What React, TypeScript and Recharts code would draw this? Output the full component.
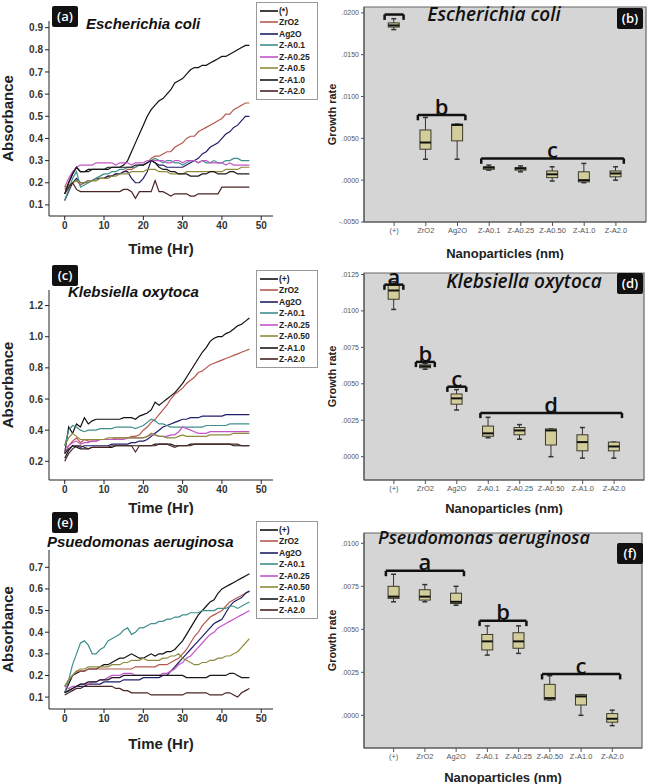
import React from "react";
import {
  LineChart, Line, XAxis, YAxis, Legend, ComposedChart, Bar,
  CartesianGrid, ReferenceLine, ReferenceDot, ReferenceArea,
} from "recharts";

// sampling hours of the growth curves
const HOURS = [0,1,2,3,4,5,6,7,8,9,10,11,12,13,14,15,16,17,18,19,20,21,22,23,24,25,26,27,28,29,30,31,32,33,34,35,36,37,38,39,40,41,42,43,44,45,46,47];

const NAMES_A = ["(*)", "ZrO2", "Ag2O", "Z-A0.1", "Z-A0.25", "Z-A0.5", "Z-A1.0", "Z-A2.0"];
const NAMES_CE = ["(+)", "ZrO2", "Ag2O", "Z-A0.1", "Z-A0.25", "Z-A0.50", "Z-A1.0", "Z-A2.0"];
const COLORS = ["#111111", "#b4584c", "#1f1f66", "#3f8f8c", "#c455c8", "#8e8c3c", "#1a1a1a", "#4a2424"];

// (a) Escherichia coli absorbance
const A_POS = [0.15,0.2,0.24,0.27,0.25,0.25,0.26,0.26,0.26,0.26,0.26,0.26,0.27,0.27,0.27,0.28,0.3,0.34,0.38,0.42,0.46,0.5,0.53,0.55,0.57,0.58,0.6,0.62,0.65,0.66,0.67,0.69,0.71,0.72,0.72,0.73,0.73,0.74,0.75,0.76,0.77,0.77,0.78,0.79,0.8,0.81,0.82,0.82];
const A_ZRO2 = [0.17,0.19,0.2,0.21,0.19,0.2,0.2,0.21,0.21,0.22,0.22,0.23,0.23,0.24,0.24,0.25,0.26,0.26,0.27,0.28,0.28,0.29,0.31,0.32,0.32,0.33,0.34,0.34,0.36,0.37,0.38,0.4,0.41,0.41,0.43,0.44,0.45,0.46,0.47,0.48,0.49,0.51,0.51,0.53,0.54,0.55,0.56,0.56];
const A_AG2O = [0.12,0.16,0.2,0.22,0.2,0.2,0.21,0.21,0.22,0.22,0.22,0.23,0.23,0.24,0.24,0.25,0.25,0.22,0.2,0.2,0.22,0.25,0.3,0.29,0.28,0.28,0.27,0.27,0.27,0.27,0.27,0.28,0.29,0.3,0.31,0.33,0.34,0.36,0.37,0.38,0.4,0.42,0.43,0.45,0.46,0.48,0.5,0.5];
const A_ZA01 = [0.12,0.17,0.22,0.25,0.18,0.19,0.2,0.21,0.22,0.23,0.24,0.24,0.25,0.25,0.26,0.26,0.27,0.27,0.27,0.28,0.28,0.29,0.3,0.31,0.3,0.29,0.3,0.3,0.29,0.29,0.28,0.29,0.3,0.3,0.29,0.3,0.29,0.29,0.3,0.29,0.29,0.3,0.3,0.31,0.31,0.3,0.3,0.3];
const A_ZA025 = [0.18,0.22,0.25,0.27,0.28,0.28,0.28,0.28,0.29,0.29,0.29,0.29,0.29,0.28,0.29,0.29,0.29,0.28,0.29,0.29,0.29,0.3,0.3,0.3,0.3,0.3,0.29,0.29,0.3,0.3,0.29,0.3,0.3,0.3,0.29,0.3,0.3,0.29,0.29,0.29,0.29,0.28,0.29,0.28,0.28,0.28,0.28,0.28];
const A_ZA05 = [0.18,0.19,0.2,0.21,0.2,0.2,0.21,0.21,0.21,0.22,0.22,0.22,0.23,0.23,0.24,0.24,0.24,0.25,0.25,0.25,0.25,0.26,0.26,0.26,0.25,0.25,0.25,0.24,0.24,0.24,0.24,0.25,0.25,0.25,0.25,0.25,0.25,0.25,0.25,0.25,0.25,0.26,0.26,0.26,0.26,0.27,0.27,0.27];
const A_ZA1 = [0.15,0.2,0.24,0.27,0.25,0.25,0.25,0.26,0.26,0.26,0.26,0.27,0.27,0.27,0.27,0.27,0.27,0.27,0.28,0.28,0.28,0.29,0.3,0.29,0.27,0.26,0.26,0.25,0.25,0.24,0.24,0.24,0.23,0.23,0.23,0.24,0.24,0.25,0.25,0.24,0.24,0.24,0.25,0.25,0.24,0.24,0.24,0.24];
const A_ZA2 = [0.15,0.18,0.2,0.17,0.16,0.16,0.16,0.16,0.16,0.16,0.16,0.16,0.16,0.16,0.16,0.17,0.17,0.16,0.13,0.16,0.16,0.16,0.16,0.21,0.16,0.16,0.15,0.14,0.15,0.15,0.15,0.15,0.14,0.14,0.15,0.15,0.15,0.15,0.15,0.15,0.18,0.18,0.18,0.18,0.18,0.18,0.18,0.18];

// (c) Klebsiella oxytoca absorbance
const C_POS = [0.25,0.42,0.38,0.44,0.42,0.48,0.44,0.46,0.47,0.47,0.47,0.47,0.47,0.47,0.47,0.48,0.48,0.48,0.47,0.49,0.5,0.51,0.53,0.58,0.56,0.58,0.6,0.62,0.64,0.67,0.7,0.74,0.78,0.82,0.86,0.9,0.93,0.97,0.99,1.0,1.0,1.02,1.03,1.05,1.07,1.08,1.1,1.12];
const C_ZRO2 = [0.25,0.3,0.33,0.35,0.32,0.34,0.33,0.33,0.33,0.34,0.34,0.34,0.34,0.35,0.35,0.35,0.35,0.36,0.36,0.37,0.4,0.42,0.45,0.47,0.5,0.53,0.56,0.6,0.63,0.65,0.67,0.7,0.72,0.74,0.77,0.78,0.8,0.82,0.83,0.84,0.85,0.86,0.87,0.88,0.89,0.9,0.91,0.92];
const C_AG2O = [0.25,0.28,0.3,0.3,0.29,0.3,0.3,0.3,0.3,0.3,0.3,0.3,0.31,0.31,0.31,0.31,0.31,0.32,0.32,0.33,0.33,0.34,0.36,0.38,0.4,0.42,0.43,0.44,0.45,0.46,0.47,0.47,0.48,0.48,0.48,0.49,0.49,0.49,0.49,0.49,0.49,0.5,0.5,0.5,0.5,0.5,0.5,0.5];
const C_ZA01 = [0.3,0.4,0.43,0.42,0.4,0.39,0.4,0.4,0.4,0.41,0.41,0.41,0.41,0.42,0.42,0.42,0.42,0.42,0.41,0.42,0.43,0.45,0.47,0.46,0.44,0.44,0.43,0.42,0.42,0.42,0.42,0.42,0.42,0.42,0.42,0.42,0.43,0.43,0.43,0.43,0.43,0.43,0.44,0.44,0.44,0.44,0.44,0.44];
const C_ZA025 = [0.28,0.3,0.32,0.33,0.31,0.32,0.32,0.33,0.33,0.34,0.34,0.34,0.34,0.34,0.34,0.34,0.35,0.35,0.35,0.35,0.35,0.36,0.37,0.37,0.36,0.36,0.36,0.37,0.37,0.39,0.42,0.41,0.4,0.39,0.38,0.38,0.38,0.39,0.39,0.39,0.39,0.39,0.39,0.39,0.39,0.39,0.39,0.39];
const C_ZA05 = [0.3,0.35,0.38,0.36,0.34,0.34,0.34,0.34,0.34,0.34,0.34,0.35,0.35,0.35,0.35,0.35,0.35,0.35,0.35,0.35,0.35,0.36,0.38,0.37,0.36,0.36,0.35,0.35,0.35,0.36,0.37,0.36,0.36,0.36,0.36,0.36,0.36,0.37,0.37,0.37,0.37,0.37,0.37,0.38,0.38,0.38,0.38,0.38];
const C_ZA1 = [0.22,0.27,0.3,0.29,0.28,0.28,0.28,0.29,0.29,0.29,0.29,0.29,0.29,0.3,0.3,0.3,0.3,0.3,0.3,0.3,0.3,0.3,0.3,0.31,0.31,0.31,0.31,0.31,0.3,0.3,0.3,0.3,0.31,0.31,0.31,0.31,0.31,0.31,0.31,0.31,0.31,0.31,0.31,0.3,0.3,0.3,0.3,0.3];
const C_ZA2 = [0.2,0.25,0.28,0.3,0.3,0.29,0.28,0.29,0.29,0.29,0.29,0.29,0.3,0.3,0.3,0.3,0.3,0.3,0.26,0.3,0.3,0.3,0.3,0.3,0.31,0.31,0.31,0.3,0.29,0.3,0.3,0.3,0.3,0.31,0.31,0.31,0.31,0.31,0.31,0.31,0.31,0.31,0.31,0.31,0.31,0.3,0.3,0.3];

// (e) Pseudomonas aeruginosa absorbance
const E_POS = [0.12,0.16,0.2,0.21,0.22,0.22,0.23,0.23,0.23,0.24,0.25,0.25,0.26,0.27,0.28,0.28,0.29,0.3,0.29,0.28,0.28,0.29,0.3,0.29,0.3,0.3,0.31,0.31,0.32,0.34,0.36,0.39,0.42,0.45,0.48,0.5,0.52,0.54,0.55,0.58,0.6,0.61,0.62,0.63,0.64,0.65,0.66,0.67];
const E_ZRO2 = [0.15,0.18,0.2,0.22,0.22,0.22,0.23,0.23,0.23,0.23,0.23,0.23,0.23,0.23,0.23,0.23,0.23,0.23,0.24,0.24,0.24,0.24,0.24,0.24,0.25,0.25,0.25,0.26,0.27,0.28,0.3,0.32,0.35,0.38,0.4,0.43,0.45,0.47,0.48,0.49,0.5,0.52,0.54,0.55,0.56,0.57,0.58,0.59];
const E_AG2O = [0.12,0.13,0.14,0.15,0.15,0.15,0.16,0.16,0.16,0.16,0.17,0.17,0.17,0.17,0.17,0.18,0.18,0.18,0.18,0.18,0.19,0.19,0.19,0.19,0.19,0.2,0.2,0.22,0.24,0.26,0.28,0.3,0.32,0.34,0.36,0.38,0.4,0.42,0.44,0.45,0.46,0.49,0.52,0.54,0.55,0.56,0.58,0.59];
const E_ZA01 = [0.12,0.18,0.25,0.3,0.35,0.36,0.34,0.3,0.3,0.32,0.33,0.36,0.37,0.38,0.39,0.41,0.42,0.39,0.4,0.42,0.42,0.43,0.44,0.44,0.45,0.45,0.46,0.46,0.47,0.47,0.48,0.48,0.49,0.49,0.49,0.5,0.5,0.5,0.5,0.51,0.51,0.51,0.52,0.52,0.51,0.52,0.53,0.54];
const E_ZA025 = [0.15,0.14,0.15,0.15,0.16,0.16,0.16,0.17,0.17,0.18,0.18,0.19,0.2,0.2,0.2,0.21,0.21,0.21,0.2,0.2,0.2,0.2,0.2,0.2,0.2,0.21,0.21,0.22,0.23,0.25,0.26,0.28,0.29,0.31,0.33,0.35,0.37,0.39,0.4,0.42,0.43,0.44,0.45,0.46,0.47,0.48,0.49,0.5];
const E_ZA05 = [0.15,0.18,0.2,0.22,0.23,0.23,0.24,0.24,0.24,0.24,0.24,0.24,0.25,0.25,0.25,0.26,0.26,0.27,0.27,0.27,0.28,0.27,0.27,0.27,0.27,0.28,0.28,0.29,0.29,0.3,0.28,0.27,0.26,0.25,0.25,0.26,0.26,0.27,0.27,0.28,0.28,0.29,0.29,0.3,0.31,0.33,0.35,0.37];
const E_ZA1 = [0.12,0.13,0.14,0.15,0.16,0.16,0.17,0.17,0.17,0.18,0.18,0.18,0.19,0.19,0.19,0.2,0.2,0.2,0.2,0.2,0.2,0.2,0.2,0.2,0.2,0.2,0.2,0.2,0.2,0.2,0.2,0.19,0.19,0.19,0.19,0.19,0.19,0.2,0.2,0.2,0.2,0.2,0.21,0.21,0.2,0.19,0.19,0.19];
const E_ZA2 = [0.11,0.12,0.13,0.14,0.14,0.15,0.15,0.15,0.15,0.15,0.15,0.15,0.15,0.14,0.14,0.13,0.13,0.12,0.12,0.12,0.12,0.12,0.11,0.11,0.11,0.11,0.11,0.11,0.11,0.11,0.11,0.12,0.12,0.12,0.12,0.12,0.12,0.11,0.11,0.11,0.11,0.12,0.12,0.11,0.1,0.12,0.13,0.14];

// growth-rate box plots: categories and five-number summaries
const GROUPS = ["(+)", "ZrO2", "Ag2O", "Z-A0.1", "Z-A0.25", "Z-A0.50", "Z-A1.0", "Z-A2.0"];
const B_MIN = [0.0180, 0.0025, 0.0025, 0.0012, 0.0010, -0.0001, -0.0003, 0.0000];
const B_Q1 = [0.0183, 0.0037, 0.0047, 0.0013, 0.0012, 0.0003, -0.0002, 0.0004];
const B_MED = [0.0185, 0.0045, 0.0066, 0.0015, 0.0014, 0.0007, 0.0000, 0.0008];
const B_Q3 = [0.0188, 0.0060, 0.0067, 0.0016, 0.0015, 0.0011, 0.0010, 0.0011];
const B_MAX = [0.0193, 0.0075, 0.0067, 0.0018, 0.0017, 0.0016, 0.0020, 0.0016];

const D_MIN = [0.0101, 0.0060, 0.0032, 0.0013, 0.0012, 0.0000, -0.0001, -0.0001];
const D_Q1 = [0.0108, 0.0061, 0.0036, 0.0014, 0.0015, 0.0008, 0.0004, 0.0004];
const D_MED = [0.0114, 0.0062, 0.0040, 0.0016, 0.0018, 0.0018, 0.0010, 0.0007];
const D_Q3 = [0.0118, 0.0063, 0.0043, 0.0021, 0.0020, 0.0019, 0.0015, 0.0010];
const D_MAX = [0.0120, 0.0064, 0.0046, 0.0027, 0.0022, 0.0019, 0.0020, 0.0010];

const F_MIN = [0.0066, 0.0066, 0.0064, 0.0035, 0.0036, 0.0009, 0.0000, -0.0006];
const F_Q1 = [0.0068, 0.0067, 0.0065, 0.0038, 0.0039, 0.0009, 0.0006, -0.0004];
const F_MED = [0.0069, 0.0069, 0.0066, 0.0043, 0.0043, 0.0010, 0.0011, -0.0002];
const F_Q3 = [0.0075, 0.0073, 0.0071, 0.0047, 0.0048, 0.0018, 0.0012, 0.0001];
const F_MAX = [0.0082, 0.0076, 0.0075, 0.0052, 0.0052, 0.0023, 0.0012, 0.0003];

// significance brackets: [fromIndex, toIndex, lineY, letter]
const B_BRACKETS: [number, number, number, string][] = [[-0.3, 0.3, 0.0198, ""], [0.75, 2.25, 0.0078, "b"], [2.75, 7.25, 0.0026, "c"]];
const D_BRACKETS: [number, number, number, string][] = [[-0.3, 0.3, 0.0118, "a"], [0.7, 1.3, 0.0065, "b"], [1.7, 2.3, 0.0048, "c"], [2.75, 7.25, 0.0030, "d"]];
const F_BRACKETS: [number, number, number, string][] = [[-0.25, 2.25, 0.0084, "a"], [2.75, 4.25, 0.0055, "b"], [4.75, 7.25, 0.0024, "c"]];

const ARIAL = "'Liberation Sans', Arial, sans-serif";
const OPEN = "'Open Sans', 'Liberation Sans', sans-serif";

function LegendBox(props: any) {
  const items = [...(props.payload || [])];
  const order: string[] = props.order || [];
  items.sort((a: any, b: any) => order.indexOf(a.value) - order.indexOf(b.value));
  return (
    <div style={{ border: "1px solid #999", background: "#fff", padding: "2px 3px", width: 54, fontFamily: ARIAL }}>
      {items.map((it: any) => (
        <div key={it.value} style={{ display: "flex", alignItems: "center", height: 11.5 }}>
          <svg width={18} height={4}><line x1={0} y1={2} x2={18} y2={2} stroke={it.color} strokeWidth={1.6} /></svg>
          <span style={{ fontSize: 8.5, fontWeight: "bold", color: "#222", marginLeft: 1 }}>{it.value}</span>
        </div>
      ))}
    </div>
  );
}

function LinePanel(p: any) {
  const rows = HOURS.map((t, i) => {
    const r: any = { t };
    p.series.forEach((s: number[], k: number) => { r["s" + k] = s[i]; });
    return r;
  });
  return (
    <div style={{ position: "absolute", left: 0, top: p.top, width: 324, height: p.height }}>
      <LineChart width={324} height={p.height} data={rows}
        margin={{ top: p.mTop, right: 51, bottom: p.mBottom, left: 8 }}>
        <XAxis dataKey="t" type="number" domain={[-4, 53]} ticks={[0, 10, 20, 30, 40, 50]} allowDataOverflow
          stroke="#222" height={p.xh} tickSize={4}
          tick={{ fontSize: 10, fontWeight: "bold", fill: "#333", fontFamily: ARIAL }}
          label={{ value: "Time (Hr)", position: "insideBottom", offset: 0, style: { fontSize: 15, fontWeight: "bold", fill: "#222", fontFamily: ARIAL } }} />
        <YAxis type="number" domain={p.yDomain} ticks={p.yTicks} allowDataOverflow width={41} stroke="#222" tickSize={4}
          tickFormatter={(v: number) => v.toFixed(1)}
          tick={{ fontSize: 10, fontWeight: "bold", fill: "#333", fontFamily: ARIAL }}
          label={{ value: "Absorbance", angle: -90, position: "insideLeft", offset: 0, style: { textAnchor: "middle", fontSize: 15, fontWeight: "bold", fill: "#222", fontFamily: ARIAL } }} />
        <Legend layout="vertical" align="center" verticalAlign="middle" content={<LegendBox order={p.names} />}
          wrapperStyle={{ left: 256, top: p.legendTop, width: 62, height: "auto" }} />
        {p.names.map((n: string, k: number) => (
          <Line key={n} type="linear" dataKey={"s" + k} name={n} stroke={COLORS[k]} strokeWidth={1.2} dot={false} isAnimationActive={false} />
        ))}
      </LineChart>
    </div>
  );
}

function BoxShape(props: any) {
  const { x, y, width, height, payload } = props;
  if (x == null || payload == null) return null;
  const top = Math.min(y, y + height);
  const bot = Math.max(y, y + height);
  const span = payload.max - payload.min;
  const py = (v: number) => (span === 0 ? top : bot - ((v - payload.min) / span) * (bot - top));
  const cx = x + width / 2;
  const q3 = py(payload.q3), q1 = py(payload.q1);
  return (
    <g>
      <line x1={cx} x2={cx} y1={top} y2={bot} stroke="#333" strokeWidth={1} />
      <line x1={cx - 2.5} x2={cx + 2.5} y1={top} y2={top} stroke="#333" strokeWidth={1.5} />
      <line x1={cx - 2.5} x2={cx + 2.5} y1={bot} y2={bot} stroke="#333" strokeWidth={1.5} />
      <rect x={x} y={q3} width={width} height={Math.max(1.5, q1 - q3)} fill="#d3cd9c" stroke="#3a3a2a" strokeWidth={1} />
      <line x1={x} x2={x + width} y1={py(payload.med)} y2={py(payload.med)} stroke="#111" strokeWidth={2} />
    </g>
  );
}

const fmtRate = (v: number) => (v < 0 ? "-" : "") + Math.abs(v).toFixed(4).slice(1);

function BoxPanel(p: any) {
  const rows = GROUPS.map((g, i) => ({
    i, name: g, min: p.mins[i], q1: p.q1s[i], med: p.meds[i], q3: p.q3s[i], max: p.maxs[i],
  }));
  const [y0, y1] = p.yDomain;
  const tickDrop = (y1 - y0) * 0.025;
  return (
    <div style={{ position: "absolute", left: 324, top: p.top, width: 324, height: p.height }}>
      <ComposedChart width={324} height={p.height} data={rows}
        margin={{ top: p.mTop, right: p.mRight, bottom: 2, left: 0 }}>
        <CartesianGrid horizontal={false} vertical={false} fill="#d5d5d5" />
        <ReferenceArea x1={-0.95} x2={7.95} y1={y0} y2={y1} fill="none" stroke="#666" strokeWidth={1.2} ifOverflow="extendDomain" />
        <XAxis dataKey="i" type="number" domain={[-0.95, 7.95]} ticks={[0, 1, 2, 3, 4, 5, 6, 7]} allowDataOverflow
          tickFormatter={(v: number) => GROUPS[v]} stroke="#555" height={p.xh} tickSize={4}
          tick={{ fontSize: 7.5, fill: "#555", fontFamily: ARIAL }}
          label={{ value: "Nanoparticles (nm)", position: "insideBottom", offset: 0, style: { fontSize: 13, fontWeight: "bold", fill: "#222", fontFamily: ARIAL } }} />
        <YAxis type="number" domain={p.yDomain} ticks={p.yTicks} allowDataOverflow width={40} stroke="#555" tickSize={3}
          tickFormatter={fmtRate} tick={{ fontSize: 7, fill: "#555", fontFamily: ARIAL }}
          label={{ value: "Growth rate", angle: -90, position: "insideLeft", offset: 8, style: { textAnchor: "middle", fontSize: 11, fontWeight: "bold", fill: "#222", fontFamily: ARIAL } }} />
        <Bar dataKey={(d: any) => [d.min, d.max]} barSize={11} shape={<BoxShape />} isAnimationActive={false} />
        {p.brackets.map((b: any, k: number) => (
          <ReferenceLine key={"h" + k} segment={[{ x: b[0], y: b[2] }, { x: b[1], y: b[2] }]} stroke="#111" strokeWidth={2.5} />
        ))}
        {p.brackets.map((b: any, k: number) => (
          <ReferenceLine key={"l" + k} segment={[{ x: b[0], y: b[2] }, { x: b[0], y: b[2] - tickDrop }]} stroke="#111" strokeWidth={2.5} />
        ))}
        {p.brackets.map((b: any, k: number) => (
          <ReferenceLine key={"r" + k} segment={[{ x: b[1], y: b[2] }, { x: b[1], y: b[2] - tickDrop }]} stroke="#111" strokeWidth={2.5} />
        ))}
        {p.brackets.filter((b: any) => b[3]).map((b: any, k: number) => (
          <ReferenceDot key={"t" + k} x={(b[0] + b[1]) / 2} y={b[2] + (y1 - y0) * 0.038} r={0} stroke="none" fill="none"
            label={{ value: b[3], position: "center", style: { fontSize: 22, fontWeight: 600, fill: "#111", fontFamily: OPEN } }} />
        ))}
      </ComposedChart>
    </div>
  );
}

function Tag({ left, top, text }: { left: number; top: number; text: string }) {
  return (
    <div style={{ position: "absolute", left, top, width: 26, height: 21, background: "#111", color: "#fff",
      fontFamily: OPEN, fontWeight: 600, fontSize: 13, lineHeight: "21px", textAlign: "center", borderRadius: 2 }}>{text}</div>
  );
}

function Title({ left, top, text, width, center, box, size }: any) {
  return (
    <div style={{ position: "absolute", left, top, width, textAlign: center ? "center" : "left", whiteSpace: "nowrap",
      fontFamily: box ? OPEN : ARIAL, fontStyle: "italic", fontWeight: box ? 600 : "bold", fontSize: size || (box ? 19 : 15),
      lineHeight: 1.2, color: "#111" }}>{text}</div>
  );
}

export default function App() {
  return (
    <div style={{ position: "absolute", left: 0, top: 0, width: 648, height: 784, background: "#fff", overflow: "hidden" }}>
      <LinePanel top={0} height={260} mTop={21} mBottom={6} xh={38} legendTop={2}
        series={[A_POS, A_ZRO2, A_AG2O, A_ZA01, A_ZA025, A_ZA05, A_ZA1, A_ZA2]} names={NAMES_A}
        yDomain={[0.05, 0.93]} yTicks={[0.1, 0.2, 0.3, 0.4, 0.5, 0.6, 0.7, 0.8, 0.9]} />
      <LinePanel top={260} height={255} mTop={30} mBottom={2} xh={33} legendTop={10}
        series={[C_POS, C_ZRO2, C_AG2O, C_ZA01, C_ZA025, C_ZA05, C_ZA1, C_ZA2]} names={NAMES_CE}
        yDomain={[0.08, 1.3]} yTicks={[0.2, 0.4, 0.6, 0.8, 1.0, 1.2]} />
      <LinePanel top={515} height={269} mTop={35} mBottom={35} xh={40} legendTop={6}
        series={[E_POS, E_ZRO2, E_AG2O, E_ZA01, E_ZA025, E_ZA05, E_ZA1, E_ZA2]} names={NAMES_CE}
        yDomain={[0.045, 0.78]} yTicks={[0.1, 0.2, 0.3, 0.4, 0.5, 0.6, 0.7]} />

      <BoxPanel top={0} height={260} mTop={7} mRight={2} xh={36}
        mins={B_MIN} q1s={B_Q1} meds={B_MED} q3s={B_Q3} maxs={B_MAX} brackets={B_BRACKETS}
        yDomain={[-0.005, 0.0207]} yTicks={[-0.005, 0, 0.005, 0.01, 0.015, 0.02]} />
      <BoxPanel top={260} height={255} mTop={13} mRight={4} xh={33}
        mins={D_MIN} q1s={D_Q1} meds={D_MED} q3s={D_Q3} maxs={D_MAX} brackets={D_BRACKETS}
        yDomain={[-0.0016, 0.0126]} yTicks={[0, 0.0025, 0.005, 0.0075, 0.01, 0.0125]} />
      <BoxPanel top={515} height={269} mTop={18} mRight={6} xh={34}
        mins={F_MIN} q1s={F_Q1} meds={F_MED} q3s={F_Q3} maxs={F_MAX} brackets={F_BRACKETS}
        yDomain={[-0.0019, 0.0106]} yTicks={[0, 0.0025, 0.005, 0.0075, 0.01]} />

      <Tag left={52} top={6} text="(a)" />
      <Tag left={52} top={265} text="(c)" />
      <Tag left={52} top={512} text="(e)" />
      <Tag left={617} top={8} text="(b)" />
      <Tag left={617} top={273} text="(d)" />
      <Tag left={617} top={543} text="(f)" />

      <Title left={86} top={15} text="Escherichia coli" />
      <Title left={68} top={283} text="Klebsiella oxytoca" />
      <Title left={47} top={533} text="Psuedomonas aeruginosa" />
      <Title left={394} top={3} width={200} center box text="Escherichia coli" />
      <Title left={424} top={270} width={200} center box text="Klebsiella oxytoca" />
      <Title left={378} top={527} width={212} center box size={18} text="Pseudomonas aeruginosa" />
    </div>
  );
}
